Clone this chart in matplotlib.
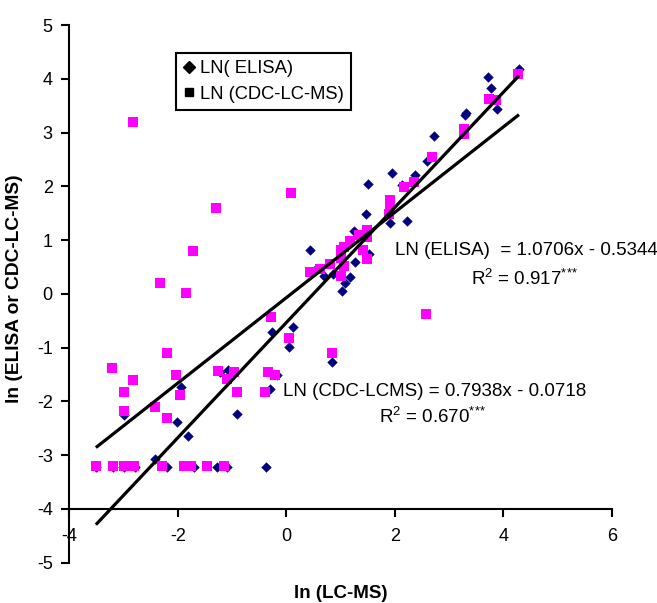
import matplotlib.pyplot as plt
from matplotlib.lines import Line2D

plt.rcParams['font.family'] = ['Liberation Sans', 'DejaVu Sans']
plt.rcParams['axes.unicode_minus'] = False
# superscripts in the equations use the same Arial-like face
plt.rcParams['mathtext.fontset'] = 'custom'
plt.rcParams['mathtext.rm'] = 'Liberation Sans'
plt.rcParams['mathtext.it'] = 'Liberation Sans:italic'
plt.rcParams['mathtext.bf'] = 'Liberation Sans:bold'

# LN(ELISA) vs ln(LC-MS)
elisa_x = [4.29, 3.72, 3.78, 3.89, 3.29, 3.32, 2.72, 2.59, 1.94, 2.37, 2.14, 1.51, 1.47,
           1.92, 2.23, 1.24, 0.44, 1.53, 1.27, 0.54, 0.69, 0.87, 1.17, 1.09, 1.03, 0.85,
           -0.26, 0.12, 0.05, -0.30, -0.17, -1.08, -1.22, -0.90, -1.94, -2.02, -1.82,
           -2.99, -2.42, -0.38,
           -3.50, -3.19, -2.99, -2.79, -2.19, -1.70, -1.28, -1.10]
elisa_y = [4.19, 4.03, 3.82, 3.43, 3.32, 3.36, 2.93, 2.47, 2.25, 2.22, 2.03, 2.05, 1.49,
           1.31, 1.35, 1.16, 0.81, 0.74, 0.59, 0.47, 0.34, 0.37, 0.32, 0.20, 0.06, -1.26,
           -0.70, -0.62, -0.98, -1.76, -1.51, -1.42, -1.46, -2.24, -1.73, -2.38, -2.65,
           -2.25, -3.07, -3.22,
           -3.22, -3.22, -3.22, -3.22, -3.22, -3.22, -3.22, -3.22]

# LN(CDC-LC-MS) vs ln(LC-MS)
cdc_x = [-2.83, -1.29, 0.09, -1.72, -2.33, -1.85, -0.28, 0.05, 2.58, 0.85,
         -3.21, -2.82, -3.00, -3.00, -2.42, -2.20, -2.04, -1.96, -2.20, -1.25,
         -1.09, -0.97, -0.90, -0.33, -0.20, -0.39,
         -3.51, -3.20, -3.00, -2.80, -2.30, -1.88, -1.76, -1.46, -1.15,
         4.27, 3.74, 3.86, 3.27, 3.27, 2.69, 2.35, 2.17, 1.92, 1.92, 1.89, 1.49,
         1.49, 1.18, 1.06, 1.00, 0.81, 1.06, 0.44, 0.63, 1.00, 1.00, 1.34, 1.42, 1.49]
cdc_y = [3.20, 1.59, 1.87, 0.79, 0.21, 0.02, -0.43, -0.82, -0.37, -1.10,
         -1.37, -1.60, -1.83, -2.17, -2.10, -1.10, -1.51, -1.89, -2.30, -1.44,
         -1.58, -1.46, -1.83, -1.46, -1.51, -1.83,
         -3.21, -3.21, -3.21, -3.21, -3.21, -3.21, -3.21, -3.21, -3.21,
         4.08, 3.63, 3.60, 3.07, 2.98, 2.54, 2.08, 1.99, 1.74, 1.61, 1.49, 1.18,
         1.05, 0.99, 0.87, 0.81, 0.56, 0.52, 0.40, 0.47, 0.34, 0.66, 1.09, 0.81, 0.65]

# trendline coefficients (slope, intercept)
elisa_fit = (1.0706, -0.5344)
cdc_fit = (0.7938, -0.0718)

x_ticks = [-4, -2, 0, 2, 4, 6]
y_ticks = [-5, -4, -3, -2, -1, 0, 1, 2, 3, 4, 5]

fig = plt.figure(figsize=(6.57, 6.03), dpi=100)
ax = fig.add_axes([0.1055, 0.0668, 0.8256, 0.8917])

ax.scatter(elisa_x, elisa_y, marker='D', s=28, color='#000080', linewidths=0, zorder=2)
ax.scatter(cdc_x, cdc_y, marker='s', s=44, color='#ff00ff', linewidths=0, zorder=3)

# linear trendlines over the range of the data
lo = min(elisa_x + cdc_x)
hi = max(elisa_x + cdc_x)
for slope, icpt in [elisa_fit, cdc_fit]:
    ax.plot([lo, hi], [slope * lo + icpt, slope * hi + icpt], color='black', lw=2.3,
            solid_capstyle='butt', zorder=4)

ax.text(2.01, 0.81, 'LN (ELISA)  = 1.0706x - 0.5344', fontsize=13.5, va='center', ha='left')
ax.text(4.40, 0.28, r'R$^{2}$ = 0.917$^{{*}{*}{*}}$', fontsize=13.5, va='center', ha='center')
ax.text(-0.06, -1.81, 'LN (CDC-LCMS) = 0.7938x - 0.0718', fontsize=13.5, va='center', ha='left')
ax.text(2.70, -2.28, r'R$^{2}$ = 0.670$^{{*}{*}{*}}$', fontsize=13.5, va='center', ha='center')

ax.set_xlim(-4, 6)
ax.set_ylim(-5, 5)
ax.set_xticks(x_ticks)
ax.set_yticks(y_ticks)

# Excel style axes: x axis crosses at y = -4
ax.spines['top'].set_visible(False)
ax.spines['right'].set_visible(False)
ax.spines['bottom'].set_position(('data', -4))
for s in ['left', 'bottom']:
    ax.spines[s].set_linewidth(1.5)
ax.tick_params(axis='both', direction='out', length=6, width=1.5, labelsize=13)
ax.tick_params(axis='x', pad=8)
ax.tick_params(axis='y', pad=6)

ax.set_xlabel('ln (LC-MS)', fontsize=13.5, fontweight='bold')
ax.set_ylabel('ln (ELISA or CDC-LC-MS)', fontsize=13.8, fontweight='bold')
ax.xaxis.set_label_coords(0.501, -0.041)
ax.yaxis.set_label_coords(-0.085, 0.509)

handles = [Line2D([], [], marker='D', color='black', linestyle='none', markersize=6),
           Line2D([], [], marker='s', color='black', linestyle='none', markersize=6)]
leg = ax.legend(handles, ['LN( ELISA)', 'LN (CDC-LC-MS)'], loc='upper left',
                bbox_to_anchor=(0.197, 0.948), fontsize=13.2, fancybox=False,
                framealpha=1, edgecolor='black', handlelength=0.6, handletextpad=0.3,
                labelspacing=0.45, borderpad=0.4, borderaxespad=0)
leg.get_frame().set_linewidth(1.5)

plt.savefig('out.png', dpi=100)
